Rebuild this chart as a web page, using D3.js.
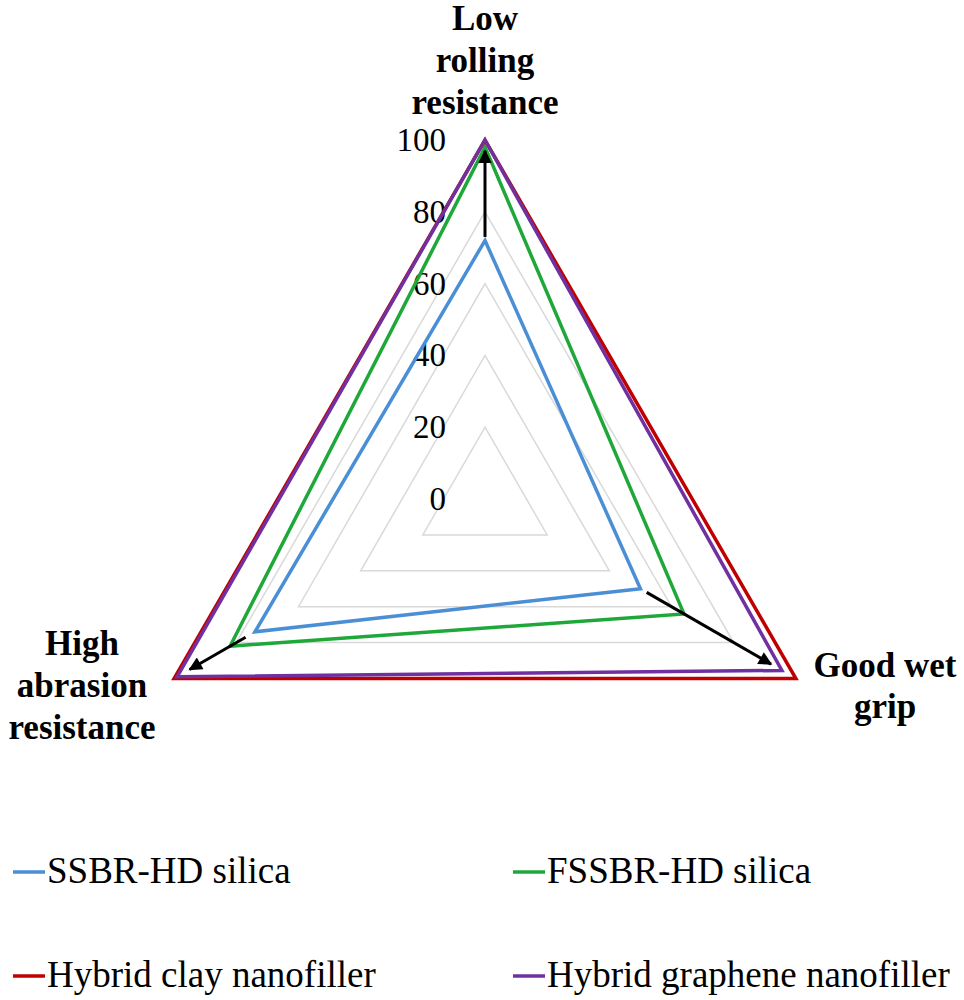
<!DOCTYPE html>
<html>
<head>
<meta charset="utf-8">
<script src="https://cdn.jsdelivr.net/npm/d3@7"></script>
<style>
  html, body { margin: 0; padding: 0; background: #fff; }
  svg { display: block; }
</style>
</head>
<body>
<svg id="chart" width="964" height="1000"></svg>
<script>
// ---- data ----
const axes = ["Low rolling resistance", "Good wet grip", "High abrasion resistance"];
const axisLabelLines = [["Low", "rolling", "resistance"], ["Good wet", "grip"], ["High", "abrasion", "resistance"]];
const seriesNames = ["SSBR-HD silica", "FSSBR-HD silica", "Hybrid clay nanofiller", "Hybrid graphene nanofiller"];
const seriesColors = ["#4a8fd6", "#1fa83a", "#c00000", "#7030a0"];
const ssbrValues = [72, 50, 74];
const fssbrValues = [98, 64, 82];
const clayValues = [100, 100, 100];
const grapheneValues = [100, 95.5, 99];
const tickValues = [0, 20, 40, 60, 80, 100];
const gridLevels = [20, 40, 60, 80, 100];
// arrows along each axis: axis index, from value, to value
const arrowAxis = [0, 1, 2];
const arrowFrom = [73, 52, 77];
const arrowTo = [97, 92, 95];

const allValues = [ssbrValues, fssbrValues, clayValues, grapheneValues];
const FONT = "'Liberation Serif', 'Liberation Sans', serif";

// ---- layout ----
const svg = d3.select("#chart");
const cx = 485, cy = 499, R = 359;
const r = d3.scaleLinear().domain([0, 100]).range([0, R]);
const angles = [-90, 30, 150].map(d => d * Math.PI / 180);
const pt = (i, v) => [cx + r(v) * Math.cos(angles[i]), cy + r(v) * Math.sin(angles[i])];

const lineGen = d3.line().curve(d3.curveLinearClosed);

// gridlines
svg.append("g").selectAll("path").data(gridLevels).join("path")
  .attr("d", lv => lineGen(axes.map((a, i) => pt(i, lv))))
  .attr("fill", "none").attr("stroke", "#d9d9d9").attr("stroke-width", 1.5);

// tick labels
svg.append("g").selectAll("text").data(tickValues).join("text")
  .attr("x", cx - 39)
  .attr("y", v => cy - r(v) + 11)
  .attr("text-anchor", "end")
  .style("font-family", FONT)
  .attr("font-size", 33)
  .attr("fill", "#000")
  .text(v => v);

// series
svg.append("g").selectAll("path").data(allValues).join("path")
  .attr("d", vals => lineGen(vals.map((v, i) => pt(i, v))))
  .attr("fill", "none")
  .attr("stroke", (d, i) => seriesColors[i])
  .attr("stroke-width", 3.5);

// arrows
svg.append("defs").append("marker")
  .attr("id", "ah").attr("viewBox", "0 0 10 10")
  .attr("refX", 9).attr("refY", 5)
  .attr("markerWidth", 5.5).attr("markerHeight", 4.5)
  .attr("markerUnits", "strokeWidth")
  .attr("orient", "auto")
  .append("path").attr("d", "M0,0 L10,5 L0,10 Z").attr("fill", "#000");

svg.append("g").selectAll("line").data(arrowAxis).join("line")
  .attr("x1", (a, k) => pt(a, arrowFrom[k])[0])
  .attr("y1", (a, k) => pt(a, arrowFrom[k])[1])
  .attr("x2", (a, k) => pt(a, arrowTo[k])[0])
  .attr("y2", (a, k) => pt(a, arrowTo[k])[1])
  .attr("stroke", "#000").attr("stroke-width", 3)
  .attr("marker-end", "url(#ah)");

// axis labels
const labelPos = [
  { x: cx, y: 30, lh: 42 },
  { x: 885, y: 677, lh: 41 },
  { x: 82, y: 655, lh: 42 }
];
const lg = svg.append("g");
axisLabelLines.forEach((lines, i) => {
  const t = lg.append("text")
    .attr("text-anchor", "middle")
    .style("font-family", FONT)
    .attr("font-size", 35)
    .attr("font-weight", "bold")
    .attr("fill", "#000");
  lines.forEach((ln, j) => {
    t.append("tspan").attr("x", labelPos[i].x).attr("y", labelPos[i].y + j * labelPos[i].lh).text(ln);
  });
});

// legend
const legendX = [13, 513];
const legendY = [883, 987];
const leg = svg.append("g").selectAll("g").data(seriesNames).join("g")
  .attr("transform", (d, i) => `translate(${legendX[i % 2]},${legendY[Math.floor(i / 2)]})`);
leg.append("line")
  .attr("x1", 0).attr("x2", 32).attr("y1", -11).attr("y2", -11)
  .attr("stroke", (d, i) => seriesColors[i]).attr("stroke-width", 3.5);
leg.append("text")
  .attr("x", 34).attr("y", 0)
  .style("font-family", FONT)
  .attr("font-size", 37)
  .attr("fill", "#000")
  .text(d => d);
</script>
</body>
</html>
